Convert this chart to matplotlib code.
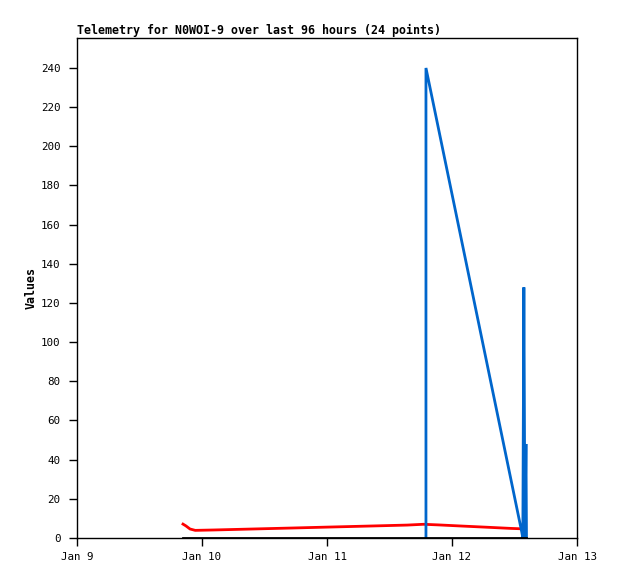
import datetime as dt
import matplotlib
matplotlib.use("Agg")
import matplotlib.pyplot as plt

t0 = dt.datetime(2024, 1, 9)

# hours since Jan 9 00:00
red_hours = [20.35, 20.9, 21.7, 22.7, 26.3, 33.8, 41.3, 48.6, 56.1, 63.4, 66.5, 69.3, 73.9, 78.7, 83.3, 85.4, 85.6]
red_vals = [7.1, 6.2, 4.6, 3.9, 4.1, 4.6, 5.1, 5.6, 6.1, 6.6, 7.0, 6.7, 6.1, 5.5, 4.9, 4.7, 6.3]

blue_hours = [67.0, 67.0, 85.4, 85.6, 85.8, 86.0, 86.2, 86.3]
blue_vals = [0, 240, 3, 0, 128, 0, 48, 0]

black_hours = [20.35, 86.3]
black_vals = [0, 0]

xtick_days = [9, 10, 11, 12, 13]
xtick_labels = ["Jan 9", "Jan 10", "Jan 11", "Jan 12", "Jan 13"]
yticks = list(range(0, 241, 20))

title = "Telemetry for N0WOI-9 over last 96 hours (24 points)"


def to_dates(hours):
    return [t0 + dt.timedelta(hours=h) for h in hours]


mono = "DejaVu Sans Mono"

fig = plt.figure(figsize=(6.18, 5.79), dpi=100)
ax = fig.add_axes([77 / 618, 41 / 579, 500 / 618, 500 / 579])

ax.plot(to_dates(red_hours), red_vals, color="#ff0000", lw=2.0, solid_joinstyle="miter")
ax.plot(to_dates(blue_hours), blue_vals, color="#0066cc", lw=2.0, solid_joinstyle="miter")
ax.plot(to_dates(black_hours), black_vals, color="#000000", lw=2.0)

ax.set_xlim(t0, t0 + dt.timedelta(days=4))
ax.set_ylim(0, 255.3)

ax.set_xticks([dt.datetime(2024, 1, d) for d in xtick_days])
ax.set_xticklabels(xtick_labels, fontfamily=mono, fontsize=7.8)
ax.set_yticks(yticks)
ax.set_yticklabels([str(v) for v in yticks], fontfamily=mono, fontsize=7.8)
ax.tick_params(axis="y", direction="out", length=6, width=1, color="black", pad=6)
ax.tick_params(axis="x", direction="out", length=6, width=1, color="black", pad=4)

for s in ax.spines.values():
    s.set_linewidth(1)
    s.set_color("black")

ax.set_ylabel("Values", fontfamily=mono, fontweight="bold", fontsize=8.4, labelpad=2)
ax.set_title(title, loc="left", fontfamily=mono, fontweight="bold", fontsize=8.4, pad=3)

fig.savefig("out.png", dpi=100)
